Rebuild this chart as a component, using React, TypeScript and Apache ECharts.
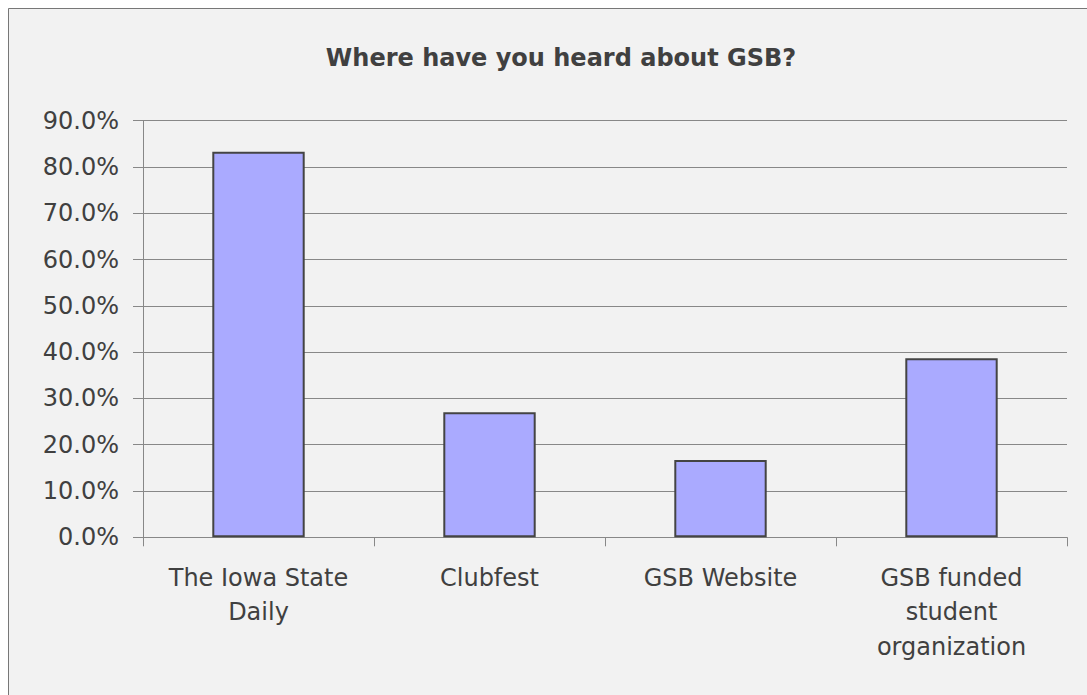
import React, { useEffect, useRef } from "react";
import * as echarts from "echarts";

const categories = [
  "The Iowa State\nDaily",
  "Clubfest",
  "GSB Website",
  "GSB funded\nstudent\norganization",
];
const values = [83.3, 27.0, 16.7, 38.7];
const titleText = "Where have you heard about GSB?";
const yMin = 0;
const yMax = 90;
const yInterval = 10;

const FONT = "DejaVu Sans";
const TEXT = "#404040";
const LINE = "#888888";
const W = 1100;
const H = 700;

export default function App() {
  const ref = useRef<HTMLDivElement>(null);
  useEffect(() => {
    if (!ref.current) return;
    const chart = echarts.init(ref.current, undefined, { renderer: "svg" });
    chart.setOption({
      animation: false,
      backgroundColor: "#f2f2f2",
      textStyle: { fontFamily: FONT, color: TEXT },
      title: {
        text: titleText,
        left: 548,
        top: 33,
        textAlign: "center",
        textStyle: { fontFamily: FONT, fontWeight: "bold", fontSize: 24, color: TEXT },
      },
      graphic: [
        { type: "line", shape: { x1: 0.5, y1: 0.5, x2: W, y2: 0.5 }, style: { stroke: "#777", lineWidth: 1 } },
        { type: "line", shape: { x1: 0.5, y1: 0.5, x2: 0.5, y2: H }, style: { stroke: "#777", lineWidth: 1 } },
      ],
      grid: { left: 135, right: W - 1059, top: 112.7, bottom: H - 529.3, containLabel: false },
      xAxis: {
        type: "category",
        data: categories,
        axisLine: { show: true, lineStyle: { color: LINE, width: 1 } },
        axisTick: { show: true, length: 9, lineStyle: { color: LINE } },
        axisLabel: {
          interval: 0,
          margin: 23,
          fontFamily: FONT,
          fontSize: 24,
          lineHeight: 34.5,
          color: TEXT,
          align: "center",
          verticalAlign: "top",
        },
      },
      yAxis: {
        type: "value",
        min: yMin,
        max: yMax,
        interval: yInterval,
        axisLine: { show: true, lineStyle: { color: LINE, width: 1 } },
        axisTick: { show: true, length: 10, lineStyle: { color: LINE } },
        splitLine: { show: true, lineStyle: { color: LINE, width: 1 } },
        axisLabel: {
          margin: 24,
          fontFamily: FONT,
          fontSize: 24,
          color: TEXT,
          formatter: (v: number) => v.toFixed(1) + "%",
        },
      },
      series: [
        {
          type: "bar",
          data: values,
          barWidth: "40%",
          itemStyle: { color: "#aaaaff", borderColor: "#444444", borderWidth: 2 },
        },
      ],
    });
    return () => chart.dispose();
  }, []);
  return (
    <div
      ref={ref}
      style={{ position: "fixed", left: 8, top: 8, width: W, height: H }}
    />
  );
}
